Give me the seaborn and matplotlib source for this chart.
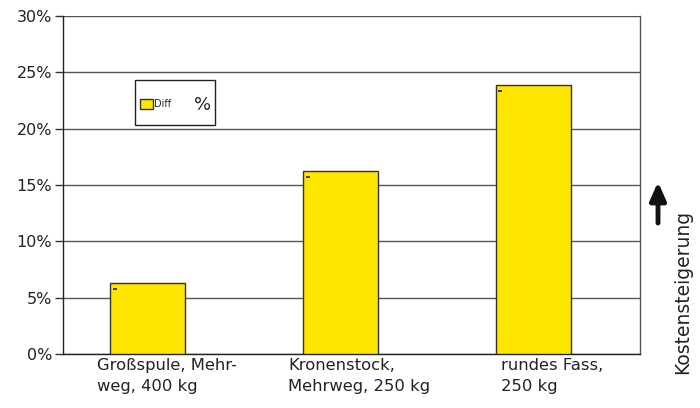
import matplotlib
matplotlib.use("Agg")
import matplotlib.pyplot as plt
import matplotlib.transforms as mtransforms
from matplotlib.patches import Patch, Rectangle
import seaborn as sns
import pandas as pd

categories = ["Großspule, Mehr-\nweg, 400 kg", "Kronenstock,\nMehrweg, 250 kg", "rundes Fass,\n250 kg"]
values = [6.3, 16.25, 23.85]
marks = [5.8, 15.7, 23.3]
yticks = [0, 5, 10, 15, 20, 25, 30]
ytick_labels = ["0%", "5%", "10%", "15%", "20%", "25%", "30%"]

sns.set_theme(style="white")
plt.rcParams["font.family"] = ["DejaVu Sans"]

df = pd.DataFrame({"cat": categories, "val": values})

fig = plt.figure(figsize=(7.0, 4.08), dpi=100)
ax = fig.add_axes([63/700, 1-354/408, (640-63)/700, (354-16)/408])

sns.barplot(data=df, x="cat", y="val", ax=ax, color="#FFE600", width=0.39,
            edgecolor="#333333", linewidth=1.0, saturation=1, zorder=3)

# tiny dark marks at the top-left of each bar
ax.scatter([i - 0.17 for i in range(len(marks))], marks, marker="_", s=6,
           color="#222222", linewidths=1.2, zorder=4)

ax.set_ylim(0, 30)
ax.set_xlim(-0.44, len(categories) - 0.445)
ax.set_yticks(yticks)
ax.set_yticklabels(ytick_labels, fontsize=11.5, color="#222222")
ax.yaxis.grid(True, color="#555555", linewidth=1.0, zorder=0)
ax.set_axisbelow(True)
ax.tick_params(axis="y", direction="out", length=6, width=1, color="#333333", left=True, pad=2)
ax.tick_params(axis="x", length=0, pad=3)
ax.set_xlabel("")
ax.set_ylabel("")

ax.set_xticks(range(len(categories)))
ax.set_xticklabels(categories, fontsize=11.8, color="#222222", ha="center",
                   multialignment="left", linespacing=1.45)
offset = mtransforms.ScaledTranslation(19/100, 0, fig.dpi_scale_trans)
for lbl in ax.get_xticklabels():
    lbl.set_transform(lbl.get_transform() + offset)

for side in ["left", "bottom"]:
    ax.spines[side].set_color("#222222")
    ax.spines[side].set_linewidth(1.0)
ax.spines["right"].set_color("#555555")
ax.spines["right"].set_linewidth(1.0)
ax.spines["top"].set_visible(False)

# legend box
ax.add_patch(Rectangle((135/700, 1-125/408), 80/700, 45/408, transform=fig.transFigure,
                       fill=False, edgecolor="#222222", linewidth=1.0, zorder=5, clip_on=False))
leg = ax.legend(handles=[Patch(facecolor="#FFE600", edgecolor="#333333", label="Diff")],
                loc="center left", bbox_to_anchor=(135/700, 1-104/408),
                bbox_transform=fig.transFigure, frameon=False, fontsize=7,
                handlelength=1.3, handleheight=1.35, handletextpad=0.2, borderpad=0)
fig.text(194/700, 1-105/408, "%", fontsize=13, color="#222222", va="center", ha="left")

# arrow and side label
ax.annotate("", xy=(658/700, 1-182/408), xytext=(658/700, 1-223/408),
            xycoords="figure fraction", textcoords="figure fraction",
            arrowprops=dict(arrowstyle="-|>,head_length=0.9,head_width=0.4",
                            color="#111111", lw=3.5, shrinkA=0, shrinkB=0))
fig.text(683/700, 1-292/408, "Kostensteigerung", rotation=90, fontsize=13.5,
         color="#222222", ha="center", va="center")

fig.savefig("out.png", dpi=100)
